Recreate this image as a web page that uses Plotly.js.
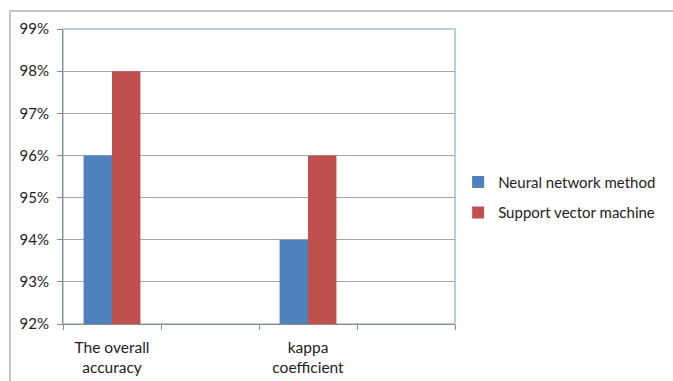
<!DOCTYPE html>
<html><head><meta charset="utf-8">
<script src="https://cdn.plot.ly/plotly-3.0.1.min.js"></script>
<style>
body{margin:0;background:#fff;}
#wrap{position:relative;width:673px;height:381px;overflow:hidden;}
#frame{position:absolute;left:9px;top:10px;width:700px;height:400px;border-top:2px solid #c4c4c4;border-left:2px solid #c4c4c4;}
#chart{position:absolute;left:0;top:0;width:673px;height:381px;}
</style></head>
<body>
<div id="wrap"><div id="frame"></div><div id="chart"></div></div>
<script>
const categories = ["The overall<br>accuracy", " ", "kappa<br>coefficient", "  "];
const seriesNames = ["Neural network method", "Support vector machine"];
const neuralNetwork = [0.96, null, 0.94, null];
const supportVector = [0.98, null, 0.96, null];
const yTicks = [0.92, 0.93, 0.94, 0.95, 0.96, 0.97, 0.98, 0.99];

const fontFam = "Lato, 'Open Sans', sans-serif";
const traces = [
  {type:'bar', name:seriesNames[0], x:categories, y:neuralNetwork, marker:{color:'#4f81bd'}, legendgroup:'a'},
  {type:'bar', name:seriesNames[1], x:categories, y:supportVector, marker:{color:'#c0504d'}, legendgroup:'b'}
];
const layout = {
  width:673, height:381,
  margin:{l:63, r:214, t:29, b:57},
  paper_bgcolor:'rgba(0,0,0,0)', plot_bgcolor:'#fff',
  barmode:'group', bargap:0.42, bargroupgap:0,
  font:{family:fontFam, size:15, color:'#222'},
  xaxis:{type:'category', tickson:'boundaries', ticks:'outside', ticklen:5, tickcolor:'#8c8c8c',
         showline:true, linecolor:'#8c8c8c', linewidth:1, showgrid:false, zeroline:false,
         tickfont:{size:15.5, color:'#222'}, ticklabelstandoff:9, fixedrange:true},
  yaxis:{range:[0.92,0.99], tickvals:yTicks, tickformat:'.0%', ticks:'outside', ticklen:5, tickcolor:'#8c8c8c',
         showline:true, linecolor:'#8c8c8c', linewidth:1, showgrid:true, gridcolor:'#a6a6a6', gridwidth:1,
         zeroline:false, tickfont:{size:15, color:'#222'}, ticklabelstandoff:5},
  shapes:[{type:'rect', xref:'paper', yref:'paper', x0:0, x1:1, y0:0, y1:1, line:{color:'#b9cde5', width:2}, layer:'below'}],
  showlegend:true,
  legend:{x:1.008, xanchor:'left', y:0.43, yanchor:'middle', traceorder:'grouped', tracegroupgap:8,
          font:{size:15, color:'#222'}, bgcolor:'rgba(0,0,0,0)', itemwidth:30}
};
Plotly.newPlot('chart', traces, layout, {displayModeBar:false, staticPlot:true});
</script>
</body></html>
